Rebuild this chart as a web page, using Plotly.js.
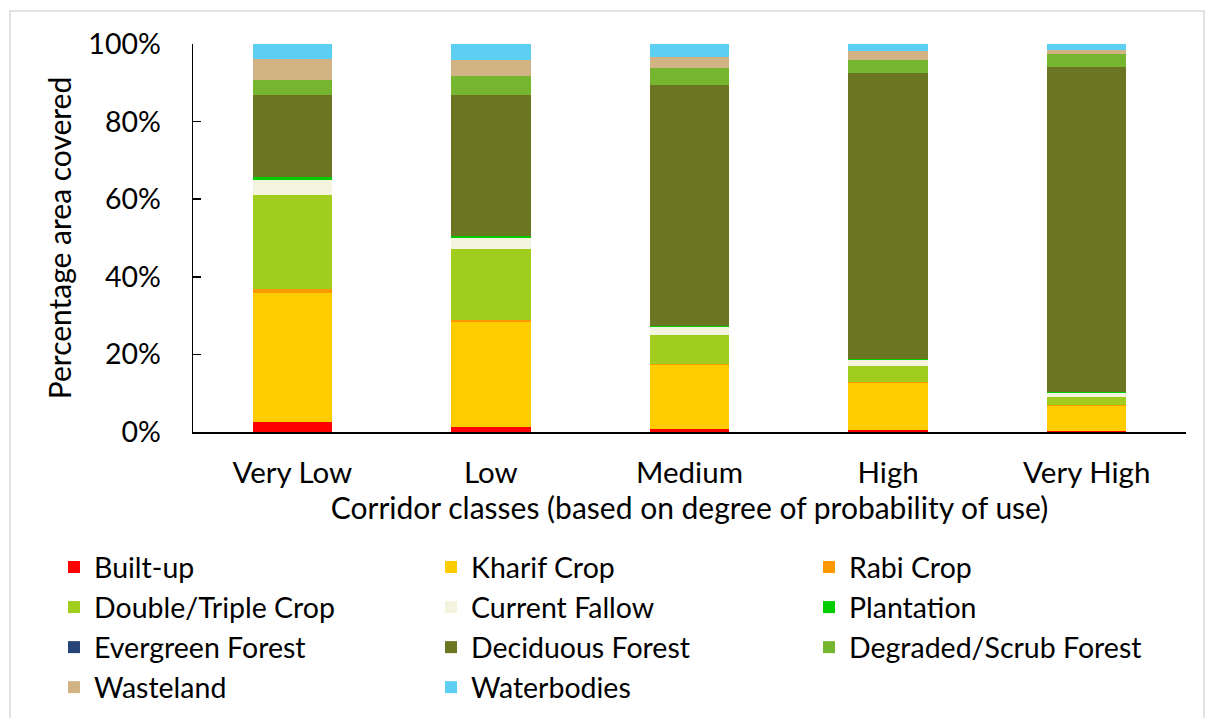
<!DOCTYPE html>
<html>
<head>
<meta charset="utf-8">
<script src="https://cdn.plot.ly/plotly-3.0.1.min.js"></script>
<style>html,body{margin:0;padding:0;background:#fff;}#chart{width:1208px;height:718px;}</style>
</head>
<body>
<div id="chart"></div>
<script>
const categories = ["Very Low", "Low", "Medium", "High", "Very High"];

const builtUp        = [2.6, 1.4, 0.75, 0.5, 0.2];
const kharifCrop     = [33.2, 27.0, 16.6, 12.1, 6.6];
const rabiCrop       = [1.0, 0.55, 0.25, 0.3, 0.2];
const doubleTriple   = [24.3, 18.2, 7.3, 4.2, 1.9];
const currentFallow  = [3.9, 2.8, 2.1, 1.4, 1.2];
const plantation     = [0.65, 0.6, 0.4, 0.3, 0.25];
const evergreen      = [0, 0, 0, 0, 0];
const deciduous      = [21.2, 36.4, 62.0, 73.8, 83.8];
const degraded       = [3.9, 4.7, 4.5, 3.4, 3.15];
const wasteland      = [5.4, 4.3, 2.8, 2.3, 1.2];
const waterbodies    = [3.9, 4.1, 3.3, 1.7, 1.5];

const seriesNames = ["Built-up", "Kharif Crop", "Rabi Crop", "Double/Triple Crop", "Current Fallow",
  "Plantation", "Evergreen Forest", "Deciduous Forest", "Degraded/Scrub Forest", "Wasteland", "Waterbodies"];
const seriesValues = [builtUp, kharifCrop, rabiCrop, doubleTriple, currentFallow, plantation,
  evergreen, deciduous, degraded, wasteland, waterbodies];
const seriesColors = ["#FF0000", "#FFCC00", "#FF9900", "#A0CD1E", "#F4F4DE", "#00CC00",
  "#264478", "#6B7522", "#76B52F", "#D2B484", "#5CCFF2"];
// legend column for each series (3 columns, filled row by row)
const legendOf = ["legend", "legend2", "legend3", "legend", "legend2", "legend3",
  "legend", "legend2", "legend3", "legend", "legend2"];

const FONT = "Lato, 'Open Sans', sans-serif";

const traces = seriesNames.map((n, i) => ({
  type: "bar",
  name: n,
  x: categories,
  y: seriesValues[i].map(v => v / 100),
  marker: {color: seriesColors[i], line: {width: 0}},
  legend: legendOf[i],
  hoverinfo: "x+y+name"
}));

// plot area in pixels: x 193..1186, y 44..432
const PL = 193, PW = 993, PB = 432, PH = 388;
const px = v => (v - PL) / PW;
const py = v => (PB - v) / PH;

const legendBase = {
  xref: "paper", yref: "paper",
  yanchor: "top", xanchor: "left",
  orientation: "v",
  traceorder: "normal",
  tracegroupgap: 0,
  font: {family: FONT, size: 28.5, color: "#000"},
  bgcolor: "rgba(0,0,0,0)",
  itemclick: false, itemdoubleclick: false
};

const layout = {
  width: 1208, height: 718,
  margin: {l: 193, r: 22, t: 44, b: 286, autoexpand: false},
  paper_bgcolor: "#fff", plot_bgcolor: "#fff",
  barmode: "stack",
  bargap: 0.6,
  showlegend: true,
  font: {family: FONT, size: 28, color: "#000"},
  xaxis: {
    type: "category",
    showline: true, linecolor: "#000", linewidth: 1.5,
    ticks: "", showgrid: false, zeroline: false,
    tickangle: 0,
    tickfont: {family: FONT, size: 29.5, color: "#000"},
    ticklabelstandoff: 14,
    title: {text: "Corridor classes (based on degree of probability of use)", font: {family: FONT, size: 30, color: "#000"}, standoff: 8},
    automargin: false
  },
  yaxis: {
    range: [0, 1], tickformat: ".0%", dtick: 0.2,
    showline: true, linecolor: "#000", linewidth: 1.5,
    ticks: "inside", ticklen: 8, tickcolor: "#000", tickwidth: 1.5,
    showgrid: false, zeroline: false,
    tickfont: {family: FONT, size: 28.5, color: "#000"},
    ticklabelstandoff: 25,
    title: {text: "Percentage area covered", font: {family: FONT, size: 30, color: "#000"}, standoff: 8},
    automargin: false
  },
  legend: Object.assign({}, legendBase, {x: px(54), y: py(542)}),
  legend2: Object.assign({}, legendBase, {x: px(431), y: py(542)}),
  legend3: Object.assign({}, legendBase, {x: px(809), y: py(542)}),
  shapes: [{
    type: "rect", xref: "paper", yref: "paper",
    x0: px(10), x1: px(1204),
    y0: py(730), y1: py(11),
    line: {color: "#D9D9D9", width: 1.5}, fillcolor: "rgba(0,0,0,0)", layer: "below"
  }]
};

Plotly.newPlot("chart", traces, layout, {displayModeBar: false, staticPlot: true});
</script>
</body>
</html>
